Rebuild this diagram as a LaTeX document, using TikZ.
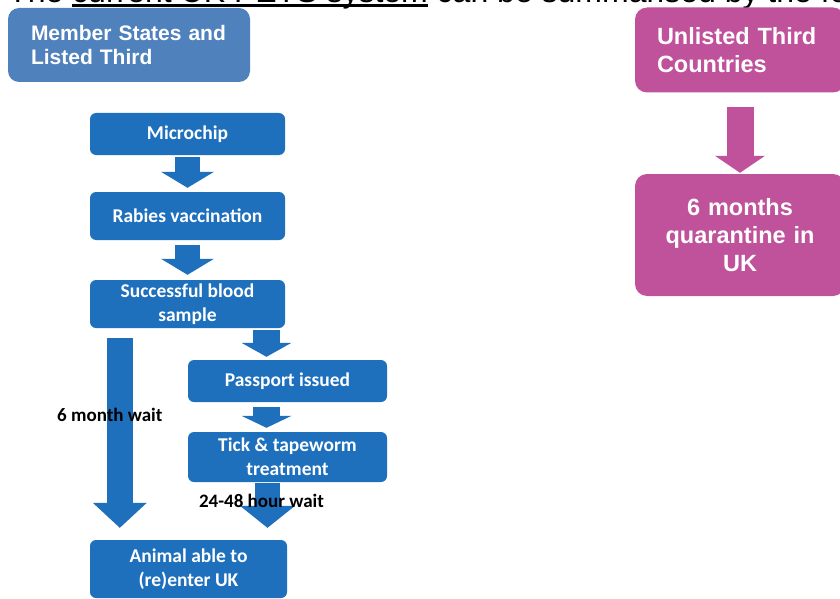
\documentclass[tikz,border=0pt]{standalone}
\usepackage{fontspec}
\setmainfont{Carlito}
\newfontfamily\arialfont{Liberation Sans}
\usetikzlibrary{arrows.meta}

\definecolor{flowblue}{RGB}{30,112,189}
\definecolor{headblue}{RGB}{79,129,189}
\definecolor{pinkbox}{RGB}{192,82,155}

% underline close under the baseline
\newcommand{\ulphrase}[1]{\setbox0\hbox{#1}\rlap{\rule[-4pt]{\wd0}{3pt}}\box0\relax}

\begin{document}
\begin{tikzpicture}[x=1pt, y=-1pt,
                    header/.style={fill=headblue, text=white, font=\arialfont\bfseries\fontsize{21}{24}\selectfont, align=left, rounded corners=11pt, inner xsep=23pt, text width=196pt, minimum height=74pt},
                    pinkbox/.style={fill=pinkbox, text=white, font=\arialfont\bfseries\fontsize{23.5}{28}\selectfont, rounded corners=12pt, inner xsep=22pt, text width=166pt, minimum width=210pt},
                    flowbox/.style={fill=flowblue, text=white, font=\bfseries\fontsize{19.5}{24}\selectfont, align=center, rounded corners=6pt, inner ysep=2pt, minimum width=195pt},
                    blockarrow/.style n args={3}{line width=#1, color=flowblue, -{Triangle[width=#2, length=#3, line width=0pt]}},
                    waitlabel/.style={text=black, font=\bfseries\fontsize{19}{24}\selectfont, inner sep=0pt}]

	\clip (0,0) rectangle (840,599);

	\node[anchor=base west, inner sep=0pt, font=\arialfont\fontsize{32}{38}\selectfont] (title) at (8,3) {The \ulphrase{current UK PETS system} can be summarised by the following};

	\node[header] (member) at (129,45) {Member States and\\Listed Third};

	\node[pinkbox, align=left, minimum height=85pt] (unlisted) at (740,50) {Unlisted Third\\Countries};

	\node[pinkbox, align=center, minimum height=122pt] (quarantine) at (740,235) {6 months\\quarantine in\\UK};

	\node[flowbox, minimum height=42pt] (microchip) at (187.5,134) {Microchip};

	\node[flowbox, minimum height=48pt] (rabies) at (187.5,216) {Rabies vaccination};

	\node[flowbox, minimum height=48pt] (blood) at (187.5,304) {Successful blood\\sample};

	\node[flowbox, minimum width=199pt, minimum height=42pt] (passport) at (287.5,381) {Passport issued};

	\node[flowbox, minimum width=199pt, minimum height=50pt] (tick) at (287.5,457) {Tick \& tapeworm\\treatment};

	\node[flowbox, minimum width=197pt, minimum height=58pt] (animal) at (188.5,569) {Animal able to\\(re)enter UK};


	\path[blockarrow={27pt}{50pt}{17pt}, color=pinkbox, shorten <=14pt, shorten >=1pt] (unlisted) edge (quarantine);

	\path[blockarrow={25pt}{53pt}{16pt}, shorten <=2pt, shorten >=4pt] (microchip) edge (rabies);

	\path[blockarrow={25pt}{53pt}{16pt}, shorten <=5pt, shorten >=5pt] (rabies) edge (blood);

	\path[blockarrow={27pt}{50pt}{14pt}, shorten <=2pt, shorten >=3pt] ([xshift=79pt]blood.south) edge ([xshift=-21pt]passport.north);

	\path[blockarrow={27pt}{50pt}{12pt}, shorten <=5pt, shorten >=4pt] ([xshift=-21pt]passport.south) edge ([xshift=-21pt]tick.north);

	\path[blockarrow={26pt}{54pt}{25pt}, shorten <=10pt, shorten >=12pt] ([xshift=30pt]blood.south west) edge node[waitlabel, pos=0.41, xshift=-10pt] {6 month wait} ([xshift=30pt]animal.north west);

	\path[blockarrow={25pt}{55pt}{22pt}, shorten <=1pt, shorten >=12pt] ([xshift=-20pt]tick.south) edge node[waitlabel, pos=0.33, xshift=-6pt] {24-48 hour wait} ([xshift=-20pt]tick.south |- animal.north);

\end{tikzpicture}
\end{document}
